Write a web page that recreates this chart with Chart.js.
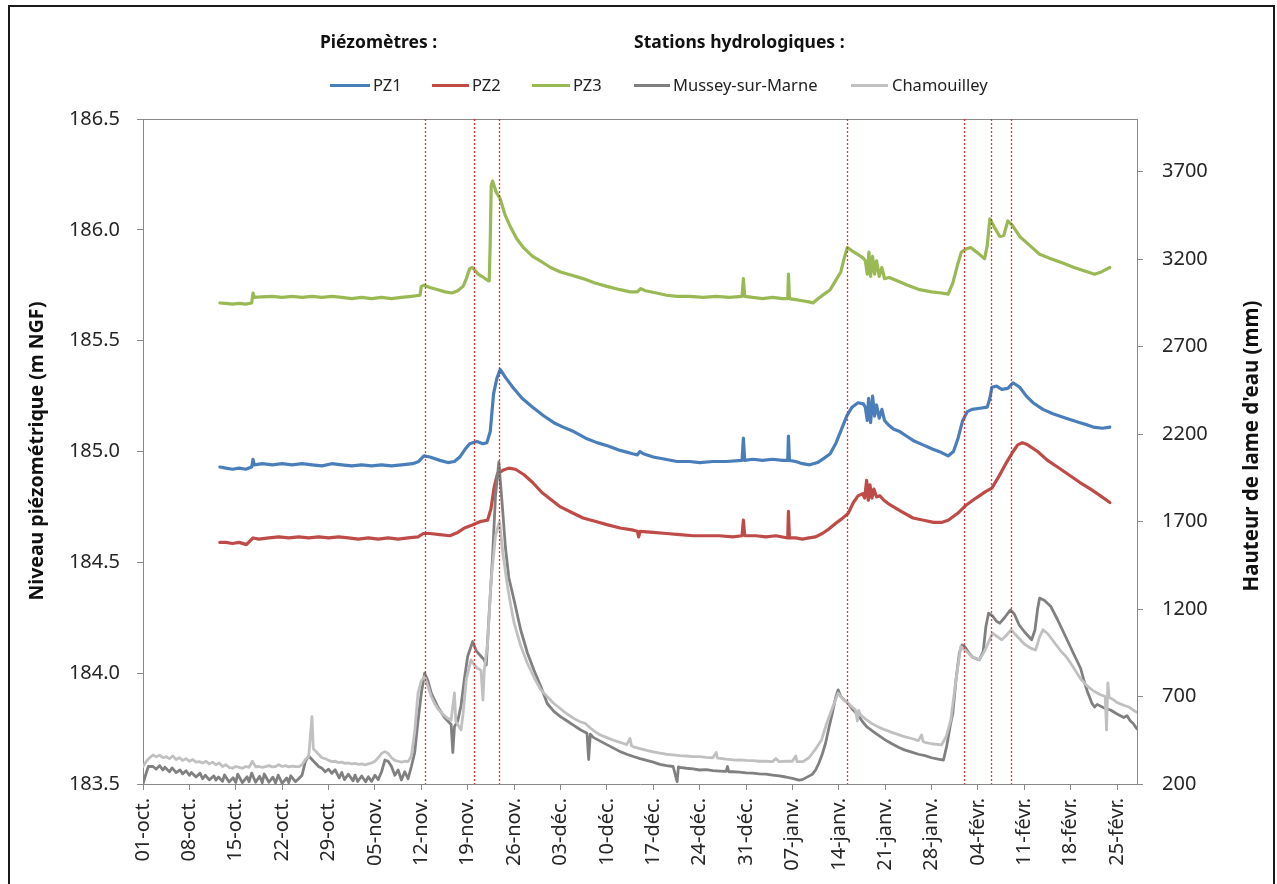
<!DOCTYPE html>
<html lang="fr">
<head>
<meta charset="utf-8">
<title>Piézomètres et stations hydrologiques</title>
<script src="https://cdn.jsdelivr.net/npm/chart.js@4.4.1/dist/chart.umd.min.js"></script>
<style>
  html, body { margin: 0; padding: 0; background: #fff; }
  body { font-family: "Noto Sans", sans-serif; color: #222; }
  #wrap { position: relative; width: 1277px; height: 884px; overflow: hidden; }
  #chart { position: absolute; left: 0; top: 0; }
  #frame { position: absolute; left: 8px; top: 5px; width: 1267px; height: 900px;
           border: 2px solid #1a1a1a; box-sizing: border-box; pointer-events: none; }
  .head { position: absolute; top: 29px; font-weight: bold; font-size: 17.5px; line-height: 24px; color: #111; white-space: nowrap; }
  .sw { position: absolute; top: 84px; height: 3px; }
  .lab { position: absolute; top: 74px; font-size: 16.5px; line-height: 22px; color: #222; white-space: nowrap; }
  .ytitle { position: absolute; font-weight: bold; color: #111; white-space: nowrap;
            transform: translate(-50%, -50%) rotate(-90deg); }
</style>
</head>
<body>
<div id="wrap">
  <canvas id="chart" width="1277" height="884"></canvas>
  <div id="frame"></div>

  <div class="head" style="left:320px">Piézomètres :</div>
  <div class="head" style="left:634px">Stations hydrologiques :</div>

  <div class="sw" style="left:330px;width:40px;background:#4a7ebb"></div>
  <div class="lab" style="left:373px">PZ1</div>
  <div class="sw" style="left:432px;width:37px;background:#be4b48"></div>
  <div class="lab" style="left:472px">PZ2</div>
  <div class="sw" style="left:532px;width:38px;background:#98b954"></div>
  <div class="lab" style="left:573px">PZ3</div>
  <div class="sw" style="left:634px;width:36px;background:#808080"></div>
  <div class="lab" style="left:673px">Mussey-sur-Marne</div>
  <div class="sw" style="left:851px;width:37px;background:#c0c0c0"></div>
  <div class="lab" style="left:892px">Chamouilley</div>

  <div class="ytitle" style="left:35px;top:451px;font-size:19.5px">Niveau piézométrique (m NGF)</div>
  <div class="ytitle" style="left:1250px;top:446px;font-size:20.5px">Hauteur de lame d'eau (mm)</div>
</div>

<script>
/* ===== Data : x = jours depuis le 01-oct. ===== */
const tickDays = [0, 7, 14, 21, 28, 35, 42, 49, 56, 63, 70, 77, 84, 91, 98, 105, 112, 119, 126, 133, 140, 147];
const tickLabels = ["01-oct.", "08-oct.", "15-oct.", "22-oct.", "29-oct.", "05-nov.", "12-nov.", "19-nov.",
  "26-nov.", "03-déc.", "10-déc.", "17-déc.", "24-déc.", "31-déc.", "07-janv.", "14-janv.", "21-janv.",
  "28-janv.", "04-févr.", "11-févr.", "18-févr.", "25-févr."];
const leftTicks = [183.5, 184.0, 184.5, 185.0, 185.5, 186.0, 186.5];
const rightTicks = [200, 700, 1200, 1700, 2200, 2700, 3200, 3700];

// dates des événements (lignes rouges pointillées)
const eventDays = [42.6, 49.9, 53.65, 106.2, 123.9, 127.9, 131.0];

// Piézomètres (m NGF) : [jour, niveau]
const pz1 = [
  [11.6,184.93],[12.5,184.925],[13.5,184.92],[14.5,184.925],[15.5,184.92],[16.4,184.93],[16.6,184.965],[16.8,184.94],
  [18,184.945],[19.5,184.94],[21,184.945],[22.5,184.94],[24,184.945],[25.5,184.94],[27,184.935],[28.5,184.945],
  [30,184.94],[31.5,184.935],[33,184.94],[34.5,184.935],[36,184.94],[37.5,184.935],[39,184.94],[40.7,184.945],
  [41.6,184.955],[42.4,184.98],[43.3,184.975],[44.8,184.96],[46,184.95],[47,184.955],[47.8,184.975],[48.6,185.01],
  [49.3,185.035],[50.4,185.045],[51.3,185.035],[51.9,185.04],[52.4,185.09],[52.9,185.26],[53.4,185.33],[53.9,185.37],
  [54.8,185.33],[55.8,185.29],[57.2,185.24],[58.8,185.2],[60.5,185.16],[62,185.13],[63.4,185.11],[65,185.09],
  [66.8,185.06],[68.5,185.04],[70.2,185.025],[72,185.005],[73.9,184.99],[74.6,184.985],[75,185.0],[75.5,184.99],
  [77,184.975],[78.8,184.965],[80.6,184.955],[82.5,184.955],[84,184.95],[86,184.955],[88,184.955],[90.4,184.96],
  [90.6,185.06],[90.8,184.96],[92,184.965],[93.5,184.96],[95,184.965],[96.5,184.96],[97.3,184.96],[97.4,185.07],
  [97.55,184.96],[98.5,184.955],[99.5,184.945],[100.6,184.94],[101.8,184.95],[102.8,184.97],[103.7,184.99],
  [104.6,185.04],[105.4,185.1],[106.2,185.16],[107,185.2],[107.9,185.22],[108.7,185.215],[109,185.2],[109.3,185.14],
  [109.5,185.24],[109.8,185.13],[110.1,185.25],[110.4,185.16],[110.7,185.21],[111.1,185.15],[111.5,185.19],
  [111.9,185.14],[112.5,185.12],[113.3,185.1],[114.2,185.09],[115.2,185.07],[116.2,185.05],[117.7,185.03],
  [119.2,185.01],[120.5,184.995],[121.5,184.98],[122.3,185.0],[123,185.06],[123.7,185.14],[124.4,185.18],
  [125.1,185.19],[126.3,185.195],[127.4,185.2],[127.8,185.24],[128.1,185.29],[128.8,185.295],[129.6,185.28],
  [130.5,185.285],[131.3,185.31],[132.3,185.29],[133.3,185.25],[134.3,185.22],[135.8,185.19],[137.3,185.17],
  [139.3,185.15],[141.4,185.13],[142.5,185.12],[143.4,185.11],[144.8,185.105],[145.9,185.11]
];

const pz2 = [
  [11.6,184.59],[12.5,184.59],[13.5,184.585],[14.5,184.59],[15.6,184.58],[16.6,184.61],[17.5,184.605],[19,184.61],
  [20.5,184.615],[22,184.61],[23.5,184.615],[25,184.61],[26.5,184.615],[28,184.61],[29.5,184.615],[31,184.61],
  [32.5,184.605],[34,184.61],[35.5,184.605],[37,184.61],[38.5,184.605],[40,184.61],[41.5,184.615],[42.3,184.63],
  [43.3,184.63],[44.8,184.625],[46.3,184.62],[47.5,184.635],[48.5,184.655],[49.8,184.67],[51,184.685],[52,184.69],
  [52.5,184.74],[53,184.84],[53.5,184.9],[54.3,184.915],[55.2,184.925],[56.2,184.92],[57.5,184.895],[58.8,184.86],
  [60.2,184.815],[61.5,184.785],[63,184.75],[64.7,184.725],[66.4,184.7],[68.2,184.685],[70,184.67],[72,184.655],
  [74,184.645],[74.6,184.64],[74.8,184.615],[75,184.64],[77,184.635],[79,184.63],[81,184.625],[83,184.62],
  [85,184.62],[87,184.62],[89,184.615],[90.4,184.62],[90.6,184.69],[90.8,184.62],[92.5,184.62],[94,184.615],
  [95.5,184.62],[97.3,184.61],[97.4,184.73],[97.55,184.61],[98.5,184.61],[99.5,184.605],[100.5,184.61],
  [101.5,184.615],[102.5,184.63],[103.5,184.65],[104.5,184.675],[105.4,184.695],[106.4,184.72],[107.2,184.77],
  [107.9,184.8],[108.6,184.81],[108.9,184.79],[109.2,184.87],[109.45,184.78],[109.7,184.85],[110,184.79],
  [110.3,184.83],[110.7,184.795],[111.2,184.8],[111.8,184.78],[112.7,184.76],[114.4,184.73],[116.2,184.7],
  [117.8,184.69],[119.3,184.68],[120.5,184.68],[121.5,184.69],[122.9,184.72],[124.3,184.76],[125.7,184.79],
  [127.2,184.82],[128.1,184.835],[129.2,184.89],[130.2,184.945],[131.3,185.0],[132,185.03],[132.7,185.04],
  [133.5,185.03],[135,185.0],[136.5,184.96],[138,184.93],[139.7,184.895],[141.4,184.86],[143,184.83],
  [144.5,184.8],[145.9,184.77]
];

const pz3 = [
  [11.6,185.67],[12.5,185.668],[13.5,185.665],[14.5,185.668],[15.5,185.665],[16.4,185.67],[16.6,185.715],
  [16.8,185.695],[18,185.698],[19.5,185.7],[21,185.695],[22.5,185.7],[24,185.695],[25.5,185.7],[27,185.695],
  [28.5,185.7],[30,185.695],[31.5,185.69],[33,185.695],[34.5,185.69],[36,185.695],[37.5,185.69],[39,185.695],
  [40.5,185.7],[41.8,185.705],[42,185.745],[42.4,185.75],[43.3,185.74],[44.5,185.73],[45.6,185.72],[46.6,185.715],
  [47.5,185.725],[48.3,185.745],[48.8,185.78],[49.3,185.825],[49.7,185.83],[50.6,185.8],[51.4,185.785],[52.1,185.77],
  [52.25,185.77],[52.4,185.95],[52.55,186.2],[52.75,186.22],[53.3,186.17],[53.9,186.14],[54.6,186.07],[55.5,186.01],
  [56.4,185.96],[57.4,185.92],[58.8,185.88],[60.2,185.855],[61.5,185.83],[63,185.81],[64.7,185.795],[66.4,185.78],
  [68.2,185.76],[70,185.745],[72,185.73],[73.5,185.72],[74.6,185.72],[75.1,185.735],[75.8,185.725],[77.5,185.715],
  [79,185.705],[80.6,185.7],[82.5,185.7],[84.5,185.695],[86.5,185.7],[88.5,185.695],[90.4,185.7],[90.6,185.78],
  [90.8,185.7],[92,185.695],[93.5,185.69],[95,185.695],[96.5,185.69],[97.3,185.69],[97.4,185.8],[97.55,185.69],
  [98.5,185.685],[99.5,185.68],[100.5,185.675],[101.1,185.67],[101.9,185.69],[102.8,185.71],[103.7,185.73],
  [104.5,185.77],[105.3,185.81],[105.8,185.87],[106.3,185.92],[107,185.905],[107.8,185.89],[108.6,185.875],
  [109,185.86],[109.3,185.8],[109.55,185.9],[109.8,185.79],[110.1,185.88],[110.4,185.8],[110.7,185.86],
  [111.1,185.79],[111.5,185.83],[111.9,185.78],[112.6,185.785],[113.8,185.77],[115.4,185.75],[117.2,185.73],
  [119,185.72],[120.5,185.715],[121.5,185.71],[122.2,185.76],[122.9,185.84],[123.5,185.9],[124.3,185.915],
  [124.9,185.92],[126,185.895],[127,185.87],[127.4,185.93],[127.8,186.05],[128.5,186.01],[129.3,185.97],
  [129.9,185.975],[130.5,186.04],[131.2,186.02],[132.3,185.97],[133.8,185.93],[135.3,185.89],[137,185.87],
  [138.8,185.85],[140.5,185.83],[142,185.815],[143.6,185.8],[144.6,185.81],[145.9,185.83]
];

// Stations hydrologiques (mm) : [jour, hauteur]
const mussey = [
  [0,200],[0.3,240],[0.8,300],[1.5,300],[2,285],[2.5,305],[3,280],[3.3,296],[4,270],[4.4,292],[5,265],[5.6,280],
  [6,258],[6.5,276],[7,250],[7.3,266],[8,240],[8.6,262],[9,230],[9.4,250],[10,224],[10.7,246],[11,222],[11.4,240],
  [12,215],[12.3,252],[13,212],[13.6,236],[14,209],[14.3,256],[15,208],[15.7,241],[16,213],[16.4,262],[17,210],
  [17.6,244],[18,207],[18.3,257],[19,210],[19.6,239],[20,206],[20.4,251],[21,204],[21.7,234],[22,208],[22.3,247],
  [23,213],[23.5,230],[24,250],[24.5,328],[25,360],[25.5,340],[26,320],[26.5,300],[27,290],[27.5,270],[28,285],
  [28.5,261],[29,281],[29.6,235],[30,266],[30.4,225],[31,256],[31.7,218],[32,251],[32.4,214],[33,246],[33.6,213],
  [34,241],[34.5,215],[35,250],[35.5,225],[36,270],[36.5,337],[37,330],[37.5,300],[38,250],[38.5,280],[39,223],
  [39.5,270],[40,230],[40.5,300],[41,380],[41.5,560],[42,720],[42.5,833],[43,790],[43.5,720],[44,680],[44.5,640],
  [45,610],[45.5,580],[46,560],[46.5,540],[46.75,380],[47,528],[47.5,560],[48,650],[48.5,800],[49,930],[49.75,1014],
  [50.3,960],[51,930],[51.5,909],[51.8,880],[52.2,1150],[52.75,1500],[53.2,1850],[53.7,2040],[54.2,1800],[54.7,1550],
  [55.2,1380],[56,1250],[57,1080],[58,950],[59,850],[60,760],[61,660],[62,615],[63,585],[64,560],[65,535],[66,510],
  [67,490],[67.25,340],[67.5,485],[68,465],[69,445],[70,425],[71,405],[72,385],[73,370],[74,357],[75,345],[76,335],
  [77,325],[78,312],[79,305],[80,300],[80.6,213],[80.8,298],[81,295],[82,290],[83,287],[84,280],[85,282],[86,276],
  [87,274],[88,272],[88.2,300],[88.4,270],[89,270],[90,268],[91,264],[92,262],[93,258],[94,256],[95,251],[96,247],
  [97,240],[98,232],[99,222],[99.5,225],[100,235],[101,255],[101.5,280],[102,320],[102.5,370],[103,433],[103.5,520],
  [104,600],[104.5,690],[104.9,738],[105.3,700],[105.8,680],[106.4,661],[107,630],[107.5,610],[108,590],[108.5,560],
  [109.2,528],[110,505],[111,478],[112,452],[113,430],[114,410],[114.9,395],[116,382],[117,370],[118,362],[119,350],
  [120,342],[120.8,337],[121.3,420],[121.8,530],[122.2,604],[122.7,800],[123.2,950],[123.6,995],[124,985],[124.6,950],
  [125.2,925],[126.2,909],[126.8,960],[127.2,1100],[127.6,1176],[128.2,1160],[128.8,1130],[129.3,1119],[130,1150],
  [130.9,1195],[131.5,1170],[132.2,1110],[133,1070],[134.1,1024],[134.6,1080],[135,1200],[135.3,1262],[136,1250],
  [137,1214],[138,1140],[139,1060],[140,980],[140.4,947],[141,900],[141.5,860],[142,790],[142.5,730],[143.2,661],
  [143.6,640],[144,655],[145,635],[146,623],[147,600],[148,580],[148.5,590],[149,560],[149.4,547],[150,515]
];

const chamouilley = [
  [0,300],[0.5,330],[1,350],[1.5,366],[2,355],[2.5,365],[3,350],[3.5,356],[4,345],[4.5,360],[5,340],[5.5,350],
  [6,335],[6.5,345],[7,330],[7.5,340],[8,325],[8.5,328],[9,320],[9.5,330],[10,315],[10.5,325],[11,310],[11.5,320],
  [12,300],[12.5,310],[13,295],[13.5,290],[14,300],[14.5,295],[15,290],[15.5,300],[16,295],[16.5,330],[17,298],
  [17.5,300],[18,295],[18.5,299],[19,305],[19.5,298],[20,300],[20.5,310],[21,300],[21.5,305],[22,298],[22.5,302],
  [23,300],[23.5,299],[24,310],[24.5,340],[25,356],[25.5,585],[25.7,400],[26,390],[26.5,370],[27,350],[27.5,345],
  [28,335],[28.5,328],[29,330],[29.5,322],[30,325],[30.5,318],[31,320],[31.5,315],[32,318],[32.5,312],[33,315],
  [33.5,309],[34,315],[34.5,320],[35,330],[35.5,350],[36,375],[36.5,385],[37,375],[37.5,350],[38,335],[38.5,330],
  [39,325],[39.5,330],[40,328],[40.5,360],[41,500],[41.5,719],[42,790],[42.5,814],[43,760],[43.5,700],[44,660],
  [44.5,630],[45,610],[45.5,590],[46,575],[46.5,566],[47,720],[47.2,560],[47.5,540],[48,509],[48.3,600],[48.8,800],
  [49.5,909],[50,880],[50.5,860],[51,850],[51.3,680],[51.5,852],[52,1000],[52.5,1350],[53.2,1620],[53.8,1700],
  [54.3,1520],[55,1330],[55.5,1220],[56,1120],[57,990],[58,890],[59,810],[60,740],[61,699],[62,660],[63,630],
  [64,600],[65,575],[66,555],[66.7,547],[67.5,520],[68,505],[69,480],[70,465],[71,450],[72,438],[72.4,433],[73,425],
  [73.5,460],[73.7,420],[74,412],[75,402],[76,392],[77,384],[78,376],[79,370],[80,366],[81,362],[82,360],[83,356],
  [84,357],[85,352],[86,350],[86.5,380],[86.7,348],[88,342],[89.4,337],[90,338],[91,335],[92,333],[93,330],[94,330],
  [95,328],[95.5,345],[96,328],[97,330],[98,330],[98.5,360],[98.7,328],[99.6,328],[100.5,350],[101.5,400],
  [102.4,452],[103.2,550],[104.1,642],[104.9,719],[105.5,690],[106.4,661],[107,640],[107.5,625],[107.8,560],
  [108,620],[108.3,595],[109.2,566],[110,545],[111,525],[112,509],[113,495],[114,482],[114.9,471],[116,460],
  [117,448],[117.5,480],[117.7,445],[118,438],[119,430],[120.5,423],[121.2,470],[121.9,566],[122.7,800],[123.4,985],
  [124.2,960],[125,930],[126.2,909],[127,960],[128.2,1062],[129,1040],[129.6,1024],[130.3,1050],[131,1081],
  [132,1040],[133,1000],[134,975],[134.7,966],[135.3,1040],[135.8,1081],[136.5,1060],[137.5,1010],[138.5,960],
  [139.3,928],[140,890],[140.5,860],[141.5,800],[142.6,756],[143.5,730],[144.5,710],[145.2,700],[145.4,509],
  [145.6,778],[145.8,695],[146.5,680],[147,665],[148,650],[148.8,640],[149.4,623],[150,610]
];

/* ===== Helpers ===== */
const AXIS_GREY = "#898989";
const TICK_FONT = { family: "Noto Sans", size: 20 };

function series(label, pts, color, width, axis, order){
  return {
    label,
    data: pts.map(([x, y]) => ({ x, y })),
    borderColor: color,
    backgroundColor: color,
    borderWidth: width,
    pointRadius: 0,
    tension: 0,
    borderJoinStyle: "round",
    borderCapStyle: "round",
    yAxisID: axis,
    order
  };
}

// lignes rouges verticales + bord haut de la zone de tracé
const eventLines = {
  id: "eventLines",
  afterDatasetsDraw(chart){
    const { ctx, chartArea: { top, bottom, left, right }, scales: { x } } = chart;
    ctx.save();
    ctx.strokeStyle = AXIS_GREY;
    ctx.lineWidth = 1;
    ctx.beginPath();
    ctx.moveTo(left, top + 0.5);
    ctx.lineTo(right, top + 0.5);
    ctx.stroke();

    ctx.strokeStyle = "rgba(232,30,30,0.9)";
    ctx.lineWidth = 1.3;
    ctx.setLineDash([2, 2]);
    eventDays.forEach(d => {
      const px = Math.round(x.getPixelForValue(d)) + 0.5;
      ctx.beginPath();
      ctx.moveTo(px, top);
      ctx.lineTo(px, bottom);
      ctx.stroke();
    });
    ctx.restore();
  }
};

/* ===== Chart ===== */
window.addEventListener("DOMContentLoaded", () => {
  const ctx = document.getElementById("chart").getContext("2d");
  new Chart(ctx, {
    type: "line",
    data: {
      datasets: [
        series("PZ1", pz1, "#4a7ebb", 3.2, "y", 4),
        series("PZ2", pz2, "#be4b48", 3.2, "y", 3),
        series("PZ3", pz3, "#98b954", 3.2, "y", 2),
        series("Mussey-sur-Marne", mussey, "#808080", 2.8, "y2", 1),
        series("Chamouilley", chamouilley, "#c0c0c0", 2.8, "y2", 0)
      ]
    },
    options: {
      responsive: false,
      animation: false,
      devicePixelRatio: 1,
      layout: { padding: { top: 119, left: 0, right: 0, bottom: 0 } },
      plugins: { legend: { display: false }, tooltip: { enabled: false } },
      scales: {
        x: {
          type: "linear",
          position: "bottom",
          min: 0,
          max: 150,
          afterBuildTicks: s => { s.ticks = tickDays.map(v => ({ value: v })); },
          afterFit: s => { s.height = 100; },
          grid: { drawOnChartArea: false, drawTicks: true, tickLength: 6, color: AXIS_GREY },
          border: { color: AXIS_GREY },
          ticks: {
            autoSkip: false, minRotation: 90, maxRotation: 90, padding: 8,
            color: "#262626", font: TICK_FONT,
            callback: (v, i) => tickLabels[i]
          }
        },
        y: {
          position: "left",
          min: 183.5,
          max: 186.5,
          afterBuildTicks: s => { s.ticks = leftTicks.map(v => ({ value: v })); },
          afterFit: s => { s.width = 143; },
          grid: { drawOnChartArea: false, drawTicks: true, tickLength: 6, color: AXIS_GREY },
          border: { color: AXIS_GREY },
          ticks: { padding: 17, color: "#262626", font: TICK_FONT, callback: v => v.toFixed(1) }
        },
        y2: {
          position: "right",
          min: 200,
          max: 4000,
          afterBuildTicks: s => { s.ticks = rightTicks.map(v => ({ value: v })); },
          afterFit: s => { s.width = 140; },
          grid: { drawOnChartArea: false, drawTicks: true, tickLength: 6, color: AXIS_GREY },
          border: { color: AXIS_GREY },
          ticks: { padding: 19, color: "#262626", font: TICK_FONT, callback: v => String(v) }
        }
      }
    },
    plugins: [eventLines]
  });
});
</script>
</body>
</html>
